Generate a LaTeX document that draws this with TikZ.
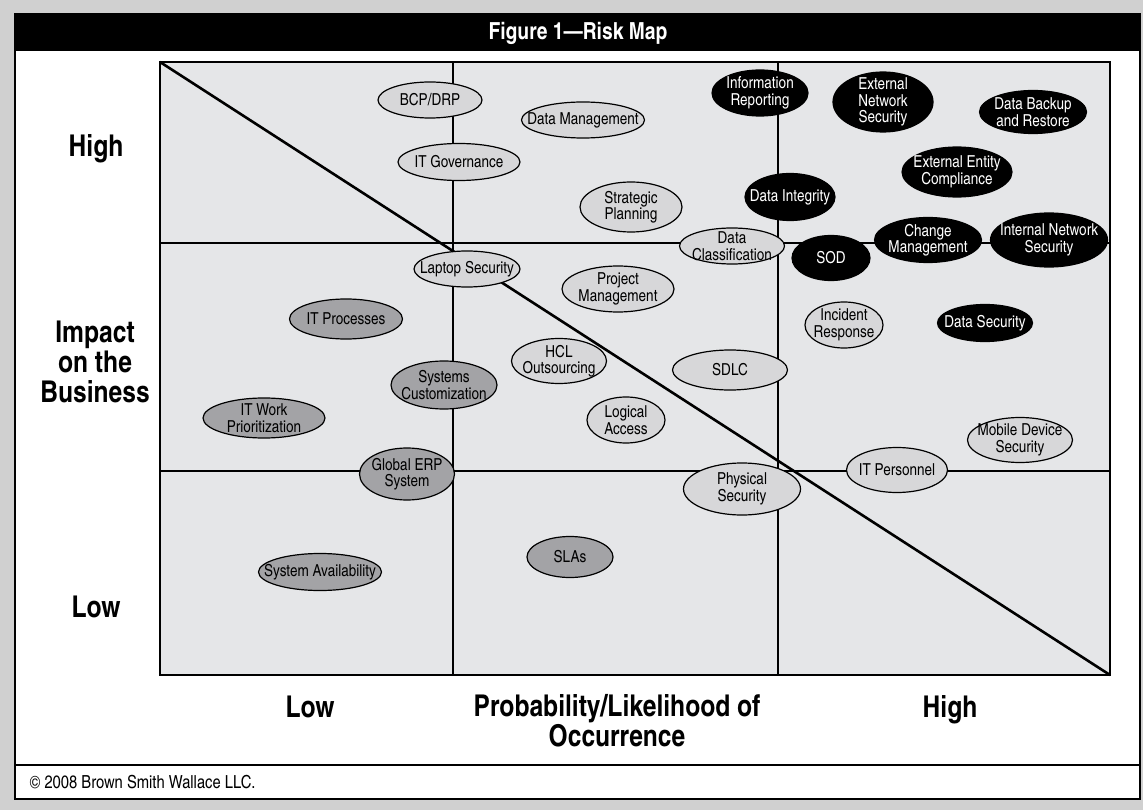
\documentclass[tikz,border=0pt]{standalone}
\usepackage{fontspec}
\setmainfont{texgyreheroscn-regular.otf}[BoldFont=texgyreheroscn-bold.otf]
\usetikzlibrary{shapes.geometric}

\definecolor{backdrop}{RGB}{208,208,208}
\definecolor{mapgray}{RGB}{229,230,232}
\definecolor{lightrisk}{RGB}{215,215,217}
\definecolor{midrisk}{RGB}{163,163,166}

\tikzset{
  risk/.style={ellipse, draw=black, line width=1.2pt, inner sep=0pt},
  medrisk/.style={risk, fill=lightrisk},
  lowrisk/.style={risk, fill=midrisk},
  highrisk/.style={risk, fill=black},
  risktext/.style={inner sep=0pt, align=center, font=\fontsize{16.5}{16.5}\selectfont},
  medtext/.style={risktext},
  lowtext/.style={risktext},
  hightext/.style={risktext, text=white},
  wh/.style 2 args={minimum width=#1, minimum height=#2},
  axislabel/.style={font=\bfseries\fontsize{30}{30}\selectfont, align=center},
  gridline/.style={line width=2.6pt},
}

% ellipse of fixed size, text laid over it
\newcommand\risk[5]{%
  \node[#1risk, wh=#3] (#2) at (#4) {};
  \node[#1text] (#2-t) at (#2) {#5};}

\begin{document}
\begin{tikzpicture}[x=1pt, y=-1pt]
\useasboundingbox (0,0) rectangle (1143,810);
\fill[backdrop] (0,0) rectangle (1143,810);
\fill[white] (15,14) rectangle (1140,799);
\fill[black] (15,14) rectangle (1140,51);
\draw[line width=2pt] (15,14) rectangle (1140,799);
\draw[line width=2pt] (15,765) -- (1140,765);
\node[text=white, font=\bfseries\fontsize{23.5}{23.5}\selectfont] (title) at (578,33) {Figure 1---Risk Map};

% the map itself
\fill[mapgray] (160,62) rectangle (1110,675);
\draw[gridline] (453,62) -- (453,675) (778,62) -- (778,675)
  (160,243) -- (1110,243) (160,471) -- (1110,471);
\draw[gridline] (160,62) -- (1110,675);
\draw[gridline] (160,62) rectangle (1110,675);

% axes
\node[axislabel] (yhigh) at (96,149) {High};
\node[axislabel] (ytitle) at (95,362) {Impact\\on the\\Business};
\node[axislabel] (ylow) at (96,607) {Low};
\node[axislabel] (xlow) at (310,707) {Low};
\node[axislabel] (xtitle) at (617,721) {Probability/Likelihood of\\Occurrence};
\node[axislabel] (xhigh) at (950,710) {High};

% risks
\risk{med}{bcp}{{104}{36}}{430,100}{BCP/DRP}
\risk{med}{datamgmt}{{123}{36}}{583,120}{Data Management}
\risk{med}{itgov}{{122}{37}}{459,162}{IT Governance}
\risk{med}{strategic}{{102}{50}}{631,207}{Strategic\\Planning}
\risk{med}{dataclass}{{105}{36}}{732,246}{Data\\Classification}
\risk{med}{laptop}{{106}{36}}{467,269}{Laptop Security}
\risk{med}{project}{{112}{46}}{618,289}{Project\\Management}
\risk{med}{hcl}{{95}{45}}{559,361}{HCL\\Outsourcing}
\risk{med}{sdlc}{{115}{40}}{730,370}{SDLC}
\risk{med}{logical}{{78}{46}}{626,420}{Logical\\Access}
\risk{med}{physical}{{117}{52}}{742,489}{Physical\\Security}
\risk{med}{incident}{{78}{46}}{844,325}{Incident\\Response}
\risk{med}{mobile}{{105}{45}}{1020,440}{Mobile Device\\Security}
\risk{med}{itpers}{{101}{45}}{897,470}{IT Personnel}

\risk{low}{itproc}{{113}{40}}{346,319}{IT Processes}
\risk{low}{itwork}{{122}{40}}{264,418}{IT Work\\Prioritization}
\risk{low}{syscust}{{106}{48}}{444,385}{Systems\\Customization}
\risk{low}{erp}{{95}{52}}{407,474}{Global ERP\\System}
\risk{low}{slas}{{86}{41}}{570,557}{SLAs}
\risk{low}{sysavail}{{123}{37}}{320,572}{System Availability}

\risk{high}{inforep}{{96}{46}}{760,93}{Information\\Reporting}
\risk{high}{extnet}{{100}{60}}{883,102}{External\\Network\\Security}
\risk{high}{backup}{{107}{43}}{1033,112}{Data Backup\\and Restore}
\risk{high}{extent}{{110}{50}}{957,172}{External Entity\\Compliance}
\risk{high}{integrity}{{90}{47}}{790,197}{Data Integrity}
\risk{high}{sod}{{78}{45}}{831,258}{SOD}
\risk{high}{change}{{107}{45}}{928,240}{Change\\Management}
\risk{high}{intnet}{{117}{54}}{1049,240}{Internal Network\\Security}
\risk{high}{datasec}{{95}{37}}{985,323}{Data Security}

\node[anchor=west, font=\fontsize{18}{18}\selectfont] (copyright) at (26,782) {\textcopyright{} 2008 Brown Smith Wallace LLC.};
\end{tikzpicture}
\end{document}
